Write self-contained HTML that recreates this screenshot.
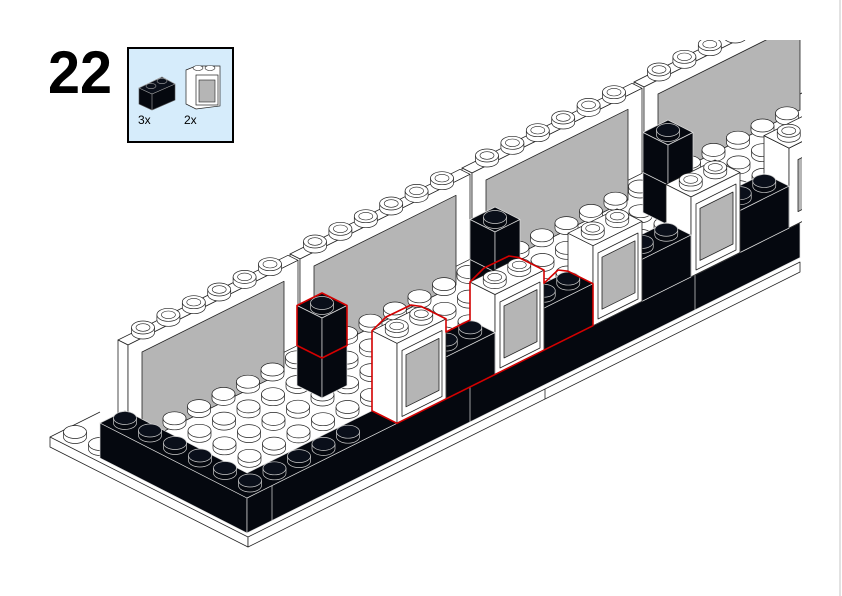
<!DOCTYPE html>
<html><head><meta charset="utf-8"><style>
html,body{margin:0;padding:0;background:#fff;}
body{width:842px;height:596px;overflow:hidden;position:relative;font-family:"Liberation Sans",sans-serif;}
</style></head><body>
<svg width="842" height="596" viewBox="0 0 842 596" xmlns="http://www.w3.org/2000/svg" style="position:absolute;left:0;top:0">
<defs>
<g id="s"><path d="M-11.5 -5 v5 a11.5 6.5 0 0 0 23 0 v-5" fill="#fff" stroke="#222" stroke-width=".7"/><ellipse cy="-5" rx="11.5" ry="6.5" fill="#fff" stroke="#222" stroke-width=".7"/></g>
<g id="h"><path d="M-11.5 -5 v5 a11.5 6.5 0 0 0 23 0 v-5" fill="#fff" stroke="#222" stroke-width=".7"/><ellipse cy="-5" rx="11.5" ry="6.5" fill="#fff" stroke="#222" stroke-width=".7"/><ellipse cy="-5" rx="7" ry="3.8" fill="#fff" stroke="#222" stroke-width=".6"/></g>
<g id="k"><path d="M-11.5 -5 v5 a11.5 6.5 0 0 0 23 0 v-5" fill="#05080f" stroke="#ccc" stroke-width=".7"/><ellipse cy="-5" rx="11.5" ry="6.5" fill="#0a0f1a" stroke="#ccc" stroke-width=".7"/></g>
<g id="row">
<use href="#s" x="637" y="-317.2"/><use href="#s" x="612.5" y="-305"/><use href="#s" x="588" y="-292.8"/><use href="#s" x="563.5" y="-280.6"/><use href="#s" x="539" y="-268.4"/><use href="#s" x="514.5" y="-256.2"/><use href="#s" x="490" y="-244"/><use href="#s" x="465.5" y="-231.8"/><use href="#s" x="441" y="-219.6"/><use href="#s" x="416.5" y="-207.4"/><use href="#s" x="392" y="-195.2"/><use href="#s" x="367.5" y="-183"/><use href="#s" x="343" y="-170.8"/><use href="#s" x="318.5" y="-158.6"/><use href="#s" x="294" y="-146.4"/><use href="#s" x="269.5" y="-134.2"/><use href="#s" x="245" y="-122"/><use href="#s" x="220.5" y="-109.8"/><use href="#s" x="196" y="-97.6"/><use href="#s" x="171.5" y="-85.4"/><use href="#s" x="147" y="-73.2"/><use href="#s" x="122.5" y="-61"/><use href="#s" x="98" y="-48.8"/><use href="#s" x="73.5" y="-36.6"/><use href="#s" x="49" y="-24.4"/><use href="#s" x="24.5" y="-12.2"/>
</g>
<clipPath id="cp"><rect x="0" y="40" width="802" height="560"/></clipPath>
</defs>

<line x1="840" y1="0" x2="840" y2="596" stroke="#e2e2e2" stroke-width="2"/>

<text x="48" y="93" font-size="60" font-weight="bold" fill="#000" textLength="64" lengthAdjust="spacingAndGlyphs" font-family="Liberation Sans, sans-serif">22</text>
<rect x="128" y="48" width="105" height="94" fill="#d6ecfb" stroke="#000" stroke-width="2"/>
<polygon points="139,88 162,77 175,84 175,100 152,110 139,104" fill="#05080f" stroke="#555" stroke-width=".6"/>
<polygon points="139,88 152,94 175,84 162,77" fill="#0a0f1a" stroke="#aaa" stroke-width=".6"/>
<line x1="152" y1="94" x2="152" y2="110" stroke="#aaa" stroke-width=".6"/>
<ellipse cx="151" cy="86" rx="5" ry="2.6" fill="#0a0f1a" stroke="#aaa" stroke-width=".6"/>
<ellipse cx="162" cy="81" rx="5" ry="2.6" fill="#0a0f1a" stroke="#aaa" stroke-width=".6"/>
<polygon points="186,70 196,66 220,66 220,106 196,109 186,104" fill="#fff" stroke="#222" stroke-width=".7"/>
<rect x="196" y="75" width="22" height="30" fill="#fff" stroke="#222" stroke-width=".7"/>
<rect x="199" y="80" width="16" height="22" fill="#b5b5b5" stroke="#222" stroke-width=".6"/>
<ellipse cx="198" cy="68" rx="5" ry="2.5" fill="#fff" stroke="#222" stroke-width=".6"/>
<ellipse cx="210" cy="68" rx="5" ry="2.5" fill="#fff" stroke="#222" stroke-width=".6"/>
<text x="138" y="124" font-size="12" fill="#000">3x</text>
<text x="184" y="124" font-size="12" fill="#000">2x</text>

<g clip-path="url(#cp)" stroke-linejoin="round">
<polygon points="50,437 100,412 800,40 800,262 248,537" fill="#fff"/>
<polygon points="50,437 248,537 248,547 50,447" fill="#fff" stroke="#222" stroke-width=".8"/>
<polygon points="248,537 800,262 800,272 248,547" fill="#fff" stroke="#222" stroke-width=".8"/>
<line x1="50" y1="437" x2="100" y2="412" stroke="#222" stroke-width=".8"/>
<line x1="545" y1="389" x2="545" y2="399" stroke="#222" stroke-width=".8"/>
<use href="#s" x="75" y="437"/><use href="#s" x="100" y="449"/>

<g stroke="#222" stroke-width=".8">
<polygon points="634,82 644,87 814,2 804,-3" fill="#fff"/>
<polygon points="634,82 644,87 644,172 634,167" fill="#fff"/>
<polygon points="644,87 814,2 814,87 644,172" fill="#fff"/>
<polygon points="658,94 800,23 800,110 658,181" fill="#b5b5b5"/>

<polygon points="462,168 472,173 642,88.3 632,83.3" fill="#fff"/>
<polygon points="462,168 472,173 472,258 462,253" fill="#fff"/>
<polygon points="472,173 642,88.3 642,173.3 472,258" fill="#fff"/>
<polygon points="486,180 628,109.3 628,200 486,270" fill="#b5b5b5"/>

<polygon points="290,254 300,259 470,174.3 460,169.3" fill="#fff"/>
<polygon points="290,254 300,259 300,344 290,339" fill="#fff"/>
<polygon points="300,259 470,174.3 470,259.3 300,344" fill="#fff"/>
<polygon points="314,266 456,195.3 456,285 314,356" fill="#b5b5b5"/>

<polygon points="118,340 128,345 298,260.3 288,255.3" fill="#fff"/>
<polygon points="118,340 128,345 128,430 118,425" fill="#fff"/>
<polygon points="128,345 298,260.3 298,345.3 128,430" fill="#fff"/>
<polygon points="142,352 284,281.3 284,372 142,442" fill="#b5b5b5"/>
</g>
<use href="#h" x="659" y="74.5"/><use href="#h" x="684.4" y="61.8"/><use href="#h" x="709.8" y="49.2"/><use href="#h" x="735.2" y="36.5"/>
<use href="#h" x="487" y="160.5"/><use href="#h" x="512.4" y="147.8"/><use href="#h" x="537.8" y="135.2"/><use href="#h" x="563.2" y="122.5"/><use href="#h" x="588.6" y="109.9"/><use href="#h" x="614" y="97.2"/>
<use href="#h" x="315" y="246.5"/><use href="#h" x="340.4" y="233.8"/><use href="#h" x="365.8" y="221.2"/><use href="#h" x="391.2" y="208.5"/><use href="#h" x="416.6" y="195.9"/><use href="#h" x="442" y="183.2"/>
<use href="#h" x="143" y="332.5"/><use href="#h" x="168.4" y="319.8"/><use href="#h" x="193.8" y="307.2"/><use href="#h" x="219.2" y="294.5"/><use href="#h" x="244.6" y="281.9"/><use href="#h" x="270" y="269.2"/>

<use href="#row" x="150" y="435.5"/>
<use href="#row" x="175" y="448"/>
<use href="#row" x="200" y="460.5"/>
<use href="#row" x="225" y="473"/>

<g stroke="#ddd" stroke-width=".7" fill="#05080f">
<polygon points="643,132.5 668,120 693,132.5 668,145"/>
<polygon points="643,132.5 668,145 668,225 643,212.5"/>
<polygon points="668,145 693,132.5 693,212.5 668,225"/>
<line x1="643" y1="172.5" x2="668" y2="185"/><line x1="668" y1="185" x2="693" y2="172.5"/>
<polygon points="470,219.5 495,207 520,219.5 495,232"/>
<polygon points="470,219.5 495,232 495,312 470,299.5"/>
<polygon points="495,232 520,219.5 520,299.5 495,312"/>
<line x1="470" y1="259.5" x2="495" y2="272"/><line x1="495" y1="272" x2="520" y2="259.5"/>
<polygon points="297,305.5 322,293 347,305.5 322,318"/>
<polygon points="297,305.5 322,318 322,398 297,385.5"/>
<polygon points="322,318 347,305.5 347,385.5 322,398"/>
<line x1="297" y1="345.5" x2="322" y2="358"/><line x1="322" y1="358" x2="347" y2="345.5"/>
</g>
<use href="#k" x="668" y="135"/><use href="#k" x="495" y="222"/><use href="#k" x="322" y="308"/>

<g stroke="#ddd" stroke-width=".7" fill="#05080f">
<polygon points="100,423 247,498 247,533 100,458"/>
<polygon points="247,498 800,222.6 800,257.6 247,533"/>
<polygon points="100,423 247,498 800,222.6 800,197.6 247,473 125,410.5"/>
<line x1="272" y1="485.5" x2="272" y2="520.5"/>
<line x1="470" y1="387" x2="470" y2="422"/>
<line x1="695" y1="275" x2="695" y2="310"/>
</g>
<use href="#k" x="125" y="423"/><use href="#k" x="150" y="435.5"/><use href="#k" x="175" y="448"/><use href="#k" x="200" y="460.5"/><use href="#k" x="225" y="473"/>
<use href="#k" x="348" y="436.7"/><use href="#k" x="323.5" y="448.9"/><use href="#k" x="299" y="461.1"/><use href="#k" x="274.5" y="473.3"/><use href="#k" x="250" y="485.5"/>

<g stroke="#222" stroke-width=".8">
<polygon points="764,215.6 789,228.1 789,148.1 764,135.6" fill="#fff"/>
<polygon points="789,228.1 838,203.7 838,123.7 789,148.1" fill="#fff"/>
<polygon points="789,148.1 838,123.7 813,111.2 764,135.6" fill="#fff"/>
<polygon points="798,159.6 831,143.2 831,195.2 798,211.6" fill="#b5b5b5"/>
</g>
<use href="#h" x="788.75" y="135.75"/>
<g stroke="#ddd" stroke-width=".7" fill="#05080f">
<polygon points="740,252.5 789,228.1 789,186.1 740,210.5"/>
<polygon points="740,210.5 789,186.1 764,173.6 715,198"/>
</g>
<use href="#k" x="739.75" y="198.15"/><use href="#k" x="764.25" y="185.95"/>
<g stroke="#222" stroke-width=".8">
<polygon points="666,264.4 691,276.9 691,196.9 666,184.4" fill="#fff"/>
<polygon points="691,276.9 740,252.5 740,172.5 691,196.9" fill="#fff"/>
<polygon points="691,196.9 740,172.5 715,160 666,184.4" fill="#fff"/>
<polygon points="696,204 736,184 736,250 696,270" fill="#fff"/>
<polygon points="700,208.4 733,192 733,244 700,260.4" fill="#b5b5b5"/>
</g>
<use href="#h" x="690.75" y="184.55"/><use href="#h" x="715.25" y="172.35"/>
<g stroke="#ddd" stroke-width=".7" fill="#05080f">
<polygon points="642,301.3 691,276.9 691,234.9 642,259.3"/>
<polygon points="642,259.3 691,234.9 666,222.4 617,246.8"/>
</g>
<use href="#k" x="641.75" y="246.95"/><use href="#k" x="666.25" y="234.75"/>
<g stroke="#222" stroke-width=".8">
<polygon points="568,313.2 593,325.7 593,245.7 568,233.2" fill="#fff"/>
<polygon points="593,325.7 642,301.3 642,221.3 593,245.7" fill="#fff"/>
<polygon points="593,245.7 642,221.3 617,208.8 568,233.2" fill="#fff"/>
<polygon points="598,253 638,233 638,299 598,319" fill="#fff"/>
<polygon points="602,257.2 635,240.8 635,292.8 602,309.2" fill="#b5b5b5"/>
</g>
<use href="#h" x="592.75" y="233.35"/><use href="#h" x="617.25" y="221.15"/>
<g stroke="#ddd" stroke-width=".7" fill="#05080f">
<polygon points="544,350.1 593,325.7 593,283.7 544,308.1"/>
<polygon points="544,308.1 593,283.7 568,271.2 519,295.6"/>
</g>
<use href="#k" x="543.75" y="295.75"/><use href="#k" x="568.25" y="283.55"/>
<g stroke="#222" stroke-width=".8">
<polygon points="470,362 495,374.5 495,294.5 470,282" fill="#fff"/>
<polygon points="495,374.5 544,350.1 544,270.1 495,294.5" fill="#fff"/>
<polygon points="495,294.5 544,270.1 519,257.6 470,282" fill="#fff"/>
<polygon points="500,302 540,282 540,348 500,368" fill="#fff"/>
<polygon points="504,306 537,289.6 537,341.6 504,358" fill="#b5b5b5"/>
</g>
<use href="#h" x="494.75" y="282.15"/><use href="#h" x="519.25" y="269.95"/>
<g stroke="#ddd" stroke-width=".7" fill="#05080f">
<polygon points="446,398.9 495,374.5 495,332.5 446,356.9"/>
<polygon points="446,356.9 495,332.5 470,320 421,344.4"/>
</g>
<use href="#k" x="445.75" y="344.55"/><use href="#k" x="470.25" y="332.35"/>
<g stroke="#222" stroke-width=".8">
<polygon points="372,410.8 397,423.3 397,343.3 372,330.8" fill="#fff"/>
<polygon points="397,423.3 446,398.9 446,318.9 397,343.3" fill="#fff"/>
<polygon points="397,343.3 446,318.9 421,306.4 372,330.8" fill="#fff"/>
<polygon points="402,350.5 442,330.5 442,396.5 402,416.5" fill="#fff"/>
<polygon points="406,354.8 439,338.4 439,390.4 406,406.8" fill="#b5b5b5"/>
</g>
<use href="#h" x="396.75" y="330.95"/><use href="#h" x="421.25" y="318.75"/>

<g fill="none" stroke="#d40000" stroke-width="1.6" stroke-linejoin="round">
<polygon points="297,305.5 322,293 347,305.5 347,345.5 322,358 297,345.5"/>
<polygon points="372,410.8 372,330.8 386,317 411,305 421,306.4 446,318.9 446,332 470,320 470,282 484,268 509,256 519,257.6 544,270.1 544,283.2 558,270 568,271.2 593,283.7 593,325.7 397,423.3"/>
</g>
</g>
</svg>
</body></html>
